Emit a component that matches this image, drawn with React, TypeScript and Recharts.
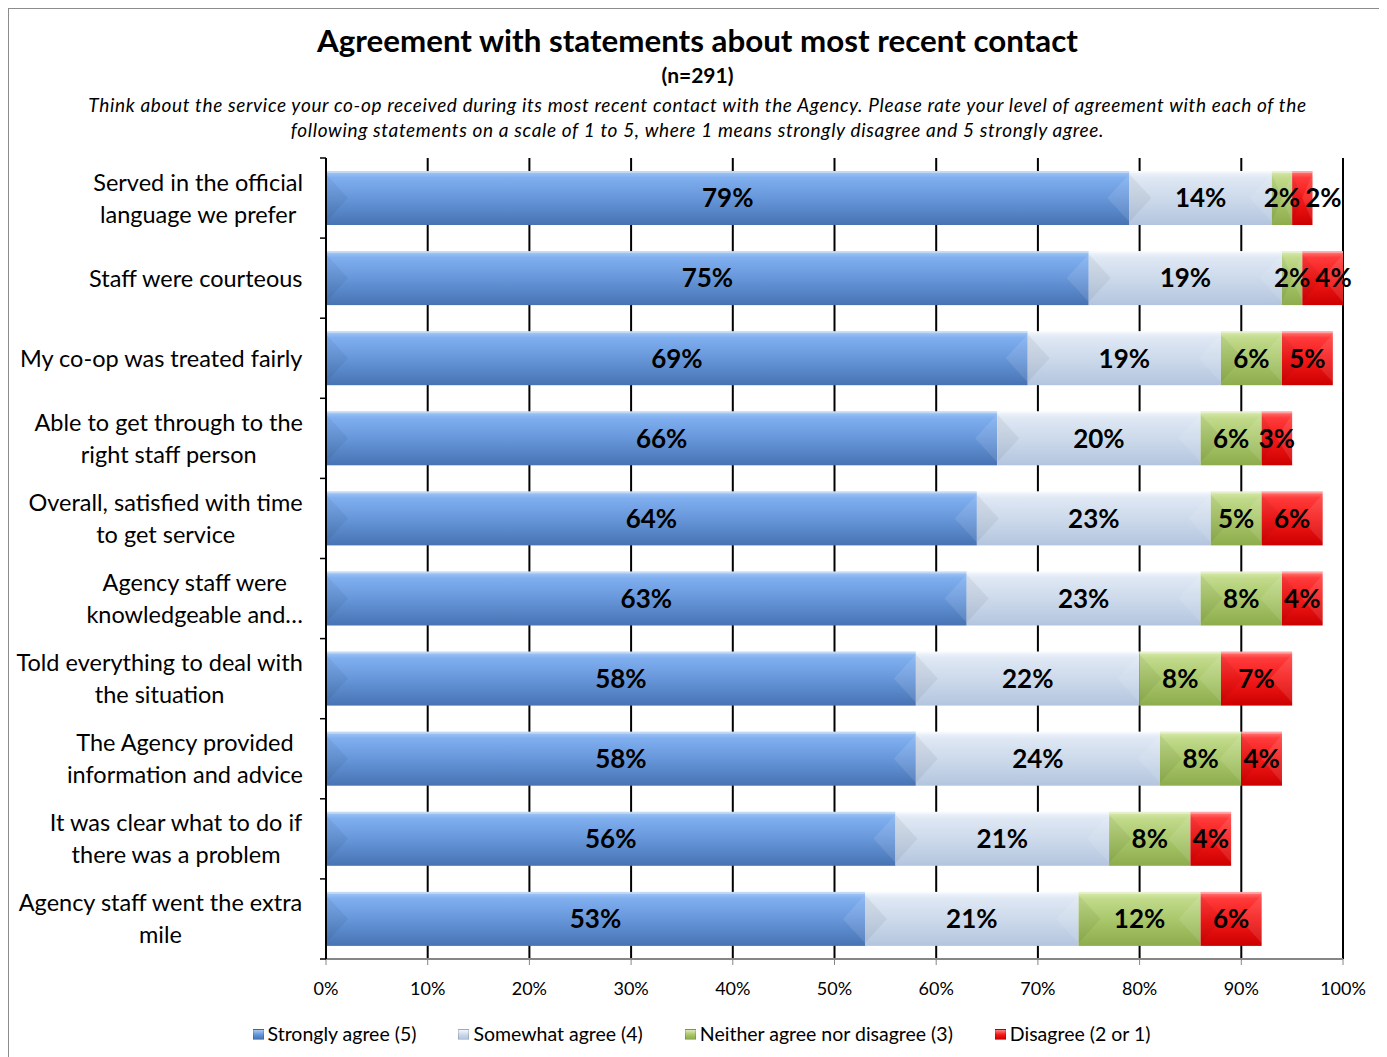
import React from 'react';
import { BarChart, Bar, XAxis, YAxis, CartesianGrid, LabelList } from 'recharts';

const categories = [
  'Served in the official\nlanguage we prefer',
  'Staff were courteous',
  'My co-op was treated fairly',
  'Able to get through to the\nright staff person',
  'Overall, satisfied with time\nto get service',
  'Agency staff were\nknowledgeable and…',
  'Told everything to deal with\nthe situation',
  'The Agency provided\ninformation and advice',
  'It was clear what to do if\nthere was a problem',
  'Agency staff went the extra\nmile',
];
const stronglyAgree = [79, 75, 69, 66, 64, 63, 58, 58, 56, 53];
const somewhatAgree = [14, 19, 19, 20, 23, 23, 22, 24, 21, 21];
const neitherAgree = [2, 2, 6, 6, 5, 8, 8, 8, 8, 12];
const disagree = [2, 4, 5, 3, 6, 4, 7, 4, 4, 6];
const seriesNames = ['Strongly agree (5)', 'Somewhat agree (4)', 'Neither agree nor disagree (3)', 'Disagree (2 or 1)'];
const xTicks = [0, 10, 20, 30, 40, 50, 60, 70, 80, 90, 100];

const data = categories.map((name, i) => ({
  name,
  strong: stronglyAgree[i],
  somewhat: somewhatAgree[i],
  neither: neitherAgree[i],
  disagree: disagree[i],
}));

const FONT = 'Lato, "Open Sans", sans-serif';
const CAT_FS = 23.5;
const LABEL_FS = 26;

// top -> bottom gradient stops for each series
const gradients = [
  { id: 'gStrong', stops: ['#a7c9f3', '#80aff0', '#6797da', '#4773b3'] },
  { id: 'gSomewhat', stops: ['#f3f7fc', '#dfe8f4', '#cddaeb', '#b3c5de'] },
  { id: 'gNeither', stops: ['#dcecb4', '#c2db8c', '#aac86c', '#8dac4c'] },
  { id: 'gDisagree', stops: ['#ff8080', '#ff3b3b', '#f51a1a', '#cc0000'] },
];
const seriesKeys = ['strong', 'somewhat', 'neither', 'disagree'];

let measureCtx: CanvasRenderingContext2D | null = null;
function textWidth(s: string, font: string) {
  if (!measureCtx) measureCtx = document.createElement('canvas').getContext('2d');
  if (!measureCtx) return s.length * 10;
  measureCtx.font = font;
  return measureCtx.measureText(s).width;
}

function CategoryTick(props: any) {
  const { x, y, payload, index } = props;
  const lines = String(payload.value).split('\n');
  const half = payload.offset || 40;
  const lh = 32;
  const blockW = Math.max(...lines.map((l) => textWidth(l, `${CAT_FS}px Lato`)));
  const cx = x - 23 - blockW / 2;
  const y0 = y - ((lines.length - 1) * lh) / 2;
  return (
    <g>
      <line x1={x - 6} x2={x} y1={y - half} y2={y - half} stroke="#000" strokeWidth={1.5} />
      {index === categories.length - 1 && (
        <line x1={x - 6} x2={x} y1={y + half} y2={y + half} stroke="#000" strokeWidth={1.5} />
      )}
      <text textAnchor="middle" fontSize={CAT_FS} fontFamily={FONT} fill="#000">
        {lines.map((l, i) => (
          <tspan key={i} x={cx} y={y0 + i * lh} dy="0.36em">
            {l}
          </tspan>
        ))}
      </text>
    </g>
  );
}

function BevelBar(props: any) {
  const { x, y, width, height, fill } = props;
  if (!(width > 0) || !(height > 0)) return null;
  const b = Math.min(22, width / 2);
  return (
    <g>
      <rect x={x} y={y} width={width} height={height} fill={fill} />
      <polygon
        points={`${x},${y + 3} ${x + b},${y + height / 2} ${x},${y + height - 3}`}
        fill="#000"
        fillOpacity={0.05}
      />
      <polygon
        points={`${x + width},${y + 3} ${x + width - b},${y + height / 2} ${x + width},${y + height - 3}`}
        fill="#fff"
        fillOpacity={0.1}
      />
      <rect x={x} y={y} width={width} height={2} fill="#fff" fillOpacity={0.35} />
    </g>
  );
}

// value label centred in its segment; the last segment's label is pushed right
// when the neighbouring label would collide with it
function makeLabel(seriesIdx: number) {
  return (props: any) => {
    const vb = props.viewBox || props;
    const { x, y, width, height } = vb;
    const value = props.value;
    const index = props.index;
    if (value == null || !(width > 0)) return null;
    const text = `${value}%`;
    const font = `bold ${LABEL_FS}px Lato`;
    let cx = x + width / 2;
    if (seriesIdx === 3 && index != null) {
      const ppu = width / Number(value);
      const prevVal = neitherAgree[index];
      const prevCenter = x - (prevVal * ppu) / 2;
      const prevRight = prevCenter + textWidth(`${prevVal}%`, font) / 2;
      cx = Math.max(cx, prevRight + 5 + textWidth(text, font) / 2);
    }
    return (
      <text
        x={cx}
        y={y + height / 2}
        dy="0.36em"
        textAnchor="middle"
        fontSize={LABEL_FS}
        fontWeight="bold"
        fontFamily={FONT}
        fill="#000"
      >
        {text}
      </text>
    );
  };
}

export default function App() {
  return (
    <div style={{ position: 'relative', width: 1379, height: 1049, overflow: 'hidden', fontFamily: FONT }}>
      <style>{'body{overflow:hidden}'}</style>
      <div
        style={{
          position: 'absolute',
          left: 0,
          top: 0,
          width: 1500,
          height: 1500,
          borderLeft: '1px solid #8c8c8c',
          borderTop: '1px solid #8c8c8c',
        }}
      />
      <div
        style={{
          position: 'absolute',
          left: 0,
          top: 15,
          width: 1379,
          textAlign: 'center',
          fontSize: 31.3,
          fontWeight: 700,
          lineHeight: '35px',
        }}
      >
        Agreement with statements about most recent contact
      </div>
      <div
        style={{
          position: 'absolute',
          left: 0,
          top: 55,
          width: 1379,
          textAlign: 'center',
          fontSize: 21,
          fontWeight: 700,
          lineHeight: '24px',
        }}
      >
        (n=291)
      </div>
      <div
        style={{
          position: 'absolute',
          left: 0,
          top: 84,
          width: 1379,
          textAlign: 'center',
          fontSize: 19,
          letterSpacing: '0.65px',
          fontStyle: 'italic',
          lineHeight: '25px',
          whiteSpace: 'nowrap',
        }}
      >
        Think about the service your co-op received during its most recent contact with the Agency. Please rate your
        level of agreement with each of the
        <br />
        following statements on a scale of 1 to 5, where 1 means strongly disagree and 5 strongly agree.
      </div>

      <div style={{ position: 'absolute', left: 0, top: 0 }}>
        <BarChart
          width={1379}
          height={1049}
          data={data}
          layout="vertical"
          barSize={54}
          margin={{ top: 150, right: 44, bottom: 58, left: 0 }}
        >
          <defs>
            {gradients.map((g) => (
              <linearGradient key={g.id} id={g.id} x1="0" y1="0" x2="0" y2="1">
                <stop offset="0%" stopColor={g.stops[0]} />
                <stop offset="12%" stopColor={g.stops[1]} />
                <stop offset="50%" stopColor={g.stops[2]} />
                <stop offset="100%" stopColor={g.stops[3]} />
              </linearGradient>
            ))}
          </defs>
          <CartesianGrid horizontal={false} vertical stroke="#000" strokeWidth={2} />
          <XAxis
            type="number"
            domain={[0, 100]}
            ticks={xTicks}
            tickFormatter={(v) => `${v}%`}
            tick={{ fontSize: 18, fill: '#000', fontFamily: FONT }}
            tickLine={{ stroke: '#868686' }}
            axisLine={{ stroke: '#868686', strokeWidth: 2 }}
            tickSize={6}
            tickMargin={17}
            height={40}
            interval={0}
          />
          <XAxis
            xAxisId="top"
            orientation="top"
            type="number"
            domain={[0, 100]}
            height={0}
            tick={false}
            tickLine={false}
            axisLine={{ stroke: '#000', strokeWidth: 1.5 }}
          />
          <YAxis
            type="category"
            dataKey="name"
            width={318}
            interval={0}
            tickSize={0}
            tickMargin={0}
            tickLine={false}
            axisLine={{ stroke: '#000', strokeWidth: 2 }}
            tick={<CategoryTick />}
          />
          {seriesKeys.map((k, i) => (
            <Bar
              key={k}
              dataKey={k}
              name={seriesNames[i]}
              stackId="a"
              fill={`url(#${gradients[i].id})`}
              shape={(p: any) => <BevelBar {...p} />}
              isAnimationActive={false}
            >
              <LabelList dataKey={k} content={makeLabel(i)} />
            </Bar>
          ))}
        </BarChart>
      </div>

      <div
        style={{
          position: 'absolute',
          left: 0,
          top: 1014,
          width: 1387,
          display: 'flex',
          justifyContent: 'center',
          gap: 42,
          fontSize: 19.5,
          lineHeight: '24px',
        }}
      >
        {seriesNames.map((n, i) => (
          <div key={n} style={{ display: 'flex', alignItems: 'center' }}>
            <span
              style={{
                display: 'inline-block',
                width: 11,
                height: 11,
                marginRight: 4,
                background: `linear-gradient(${gradients[i].stops[0]}, ${gradients[i].stops[2]}, ${gradients[i].stops[3]})`,
                border: '1px solid rgba(0,0,0,0.15)',
                boxSizing: 'border-box',
              }}
            />
            {n}
          </div>
        ))}
      </div>
    </div>
  );
}
